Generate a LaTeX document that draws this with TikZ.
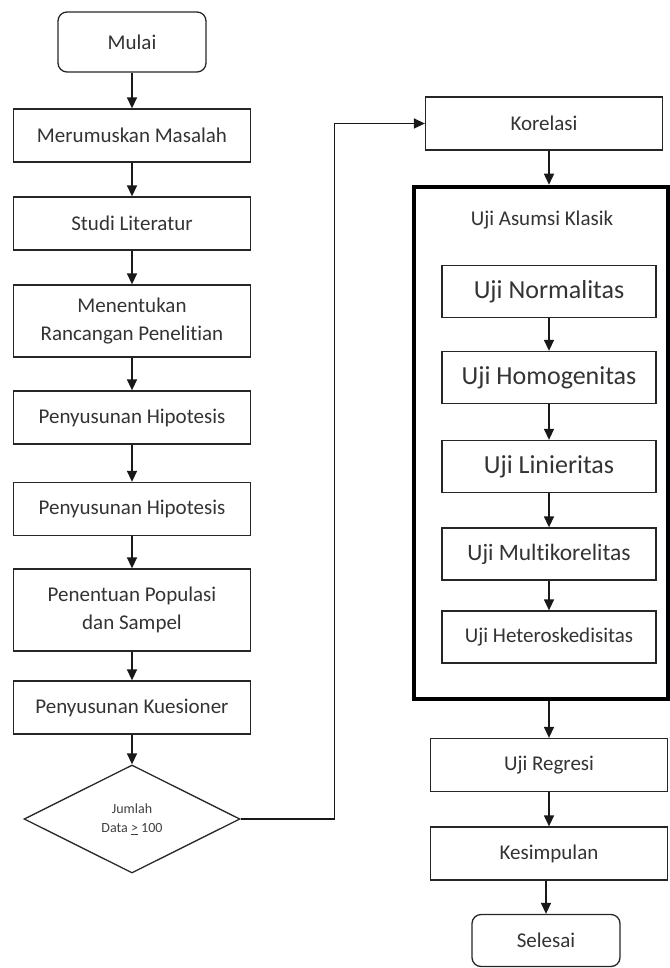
\documentclass[tikz,border=0pt]{standalone}
\usepackage{fontspec}
\setmainfont{Carlito}[Ligatures=NoCommon]
\usetikzlibrary{shapes.geometric, arrows.meta}
\tikzstyle{startstop} = [rectangle, rounded corners=9pt, minimum width=148pt, minimum height=60pt, text centered, draw=black!85, line width=1.3pt, text=black!80, font=\fontsize{21}{28}\selectfont]
\tikzstyle{process} = [rectangle, minimum width=237pt, minimum height=53pt, text centered, align=center, draw=black!85, line width=1.3pt, text=black!80, font=\fontsize{21}{28}\selectfont]
\tikzstyle{inner} = [process, minimum width=214pt, minimum height=52pt]
\tikzstyle{decision} = [diamond, minimum width=216pt, minimum height=108pt, inner sep=0pt, text centered, align=center, draw=black!85, line width=1.3pt, text=black!75, font=\fontsize{14}{19}\selectfont]
\tikzstyle{group} = [rectangle, minimum width=254pt, minimum height=512pt, draw=black, line width=4.5pt]
\tikzstyle{arrow} = [line width=1.4pt, black!90, -{Triangle[width=10pt,length=11pt]}]
\newcommand{\besar}{\fontsize{26}{30}\selectfont}

\begin{document}
\begin{tikzpicture}
				[node distance=95pt]
				\useasboundingbox (0,0) rectangle (669pt,-968pt);

				% left column
				\node (mulai) [startstop] at (132pt,-42pt) {Mulai};
				\node (rumus) [process, below of = mulai, yshift = 1.5pt] {Merumuskan Masalah};
				\node (studi) [process, below of = rumus, yshift = 7pt] {Studi Literatur};
				\node (rancang) [process, below of = studi, yshift = -2.5pt, minimum height = 72pt] {Menentukan\\Rancangan Penelitian};
				\node (hipo) [process, below of = rancang, yshift = -1.5pt] {Penyusunan Hipotesis};
				\node (hipodua) [process, below of = hipo, yshift = 3.5pt] {Penyusunan Hipotesis};
				\node (populasi) [process, below of = hipodua, yshift = -6pt, minimum height = 82pt] {Penentuan Populasi\\dan Sampel};
				\node (kuesioner) [process, below of = populasi, yshift = -2.5pt] {Penyusunan Kuesioner};
				\node (cek) [decision, below of = kuesioner, yshift = -16.5pt] {Jumlah\\Data \underline{>} 100};

				% right column
				\node (kor) [process] at (544pt,-123.5pt) {Korelasi};
				\node (klasik) [group] at (541pt,-443pt) {};
				\node (judul) [text=black!80, font=\fontsize{21}{28}\selectfont] at (542pt,-220pt) {Uji Asumsi Klasik};
				\node (normal) [inner, below of = judul, xshift = 7pt, yshift = 23.5pt, font=\besar] {Uji Normalitas};
				\node (homogen) [inner, below of = normal, yshift = 9pt, font=\besar] {Uji Homogenitas};
				\node (linier) [inner, below of = homogen, yshift = 6pt, font=\besar] {Uji Linieritas};
				\node (multi) [inner, below of = linier, yshift = 7.5pt, font=\fontsize{23.5}{28}\selectfont] {Uji Multikorelitas};
				\node (hetero) [inner, below of = multi, yshift = 12pt] {Uji Heteroskedisitas};
				\node (regresi) [process, below of = hetero, yshift = -33pt] {Uji Regresi};
				\node (simpul) [process, below of = regresi, yshift = 6.5pt] {Kesimpulan};
				\node (selesai) [startstop, minimum height = 52pt, below of = simpul, yshift = 8pt, xshift = -3pt] {Selesai};

				\draw [arrow] (mulai) -- (rumus);
				\draw [arrow] (rumus) -- (studi);
				\draw [arrow] (studi) -- (rancang);
				\draw [arrow] (rancang) -- (hipo);
				\draw [arrow] (hipo) -- (hipodua);
				\draw [arrow] (hipodua) -- (populasi);
				\draw [arrow] (populasi) -- (kuesioner);
				\draw [arrow] (kuesioner) -- (cek);
				\draw [arrow] (cek.east) -- ++(94pt,0) |- (kor.west);
				\draw [arrow] (kor.south -| normal) -- (normal |- klasik.north);
				\draw [arrow] (normal) -- (homogen);
				\draw [arrow] (homogen) -- (linier);
				\draw [arrow] (linier) -- (multi);
				\draw [arrow] (multi) -- (hetero);
				\draw [arrow] (regresi |- klasik.south) -- (regresi);
				\draw [arrow] (regresi) -- (simpul);
				\draw [arrow] (simpul.south -| selesai) -- (selesai);
			\end{tikzpicture}
\end{document}
